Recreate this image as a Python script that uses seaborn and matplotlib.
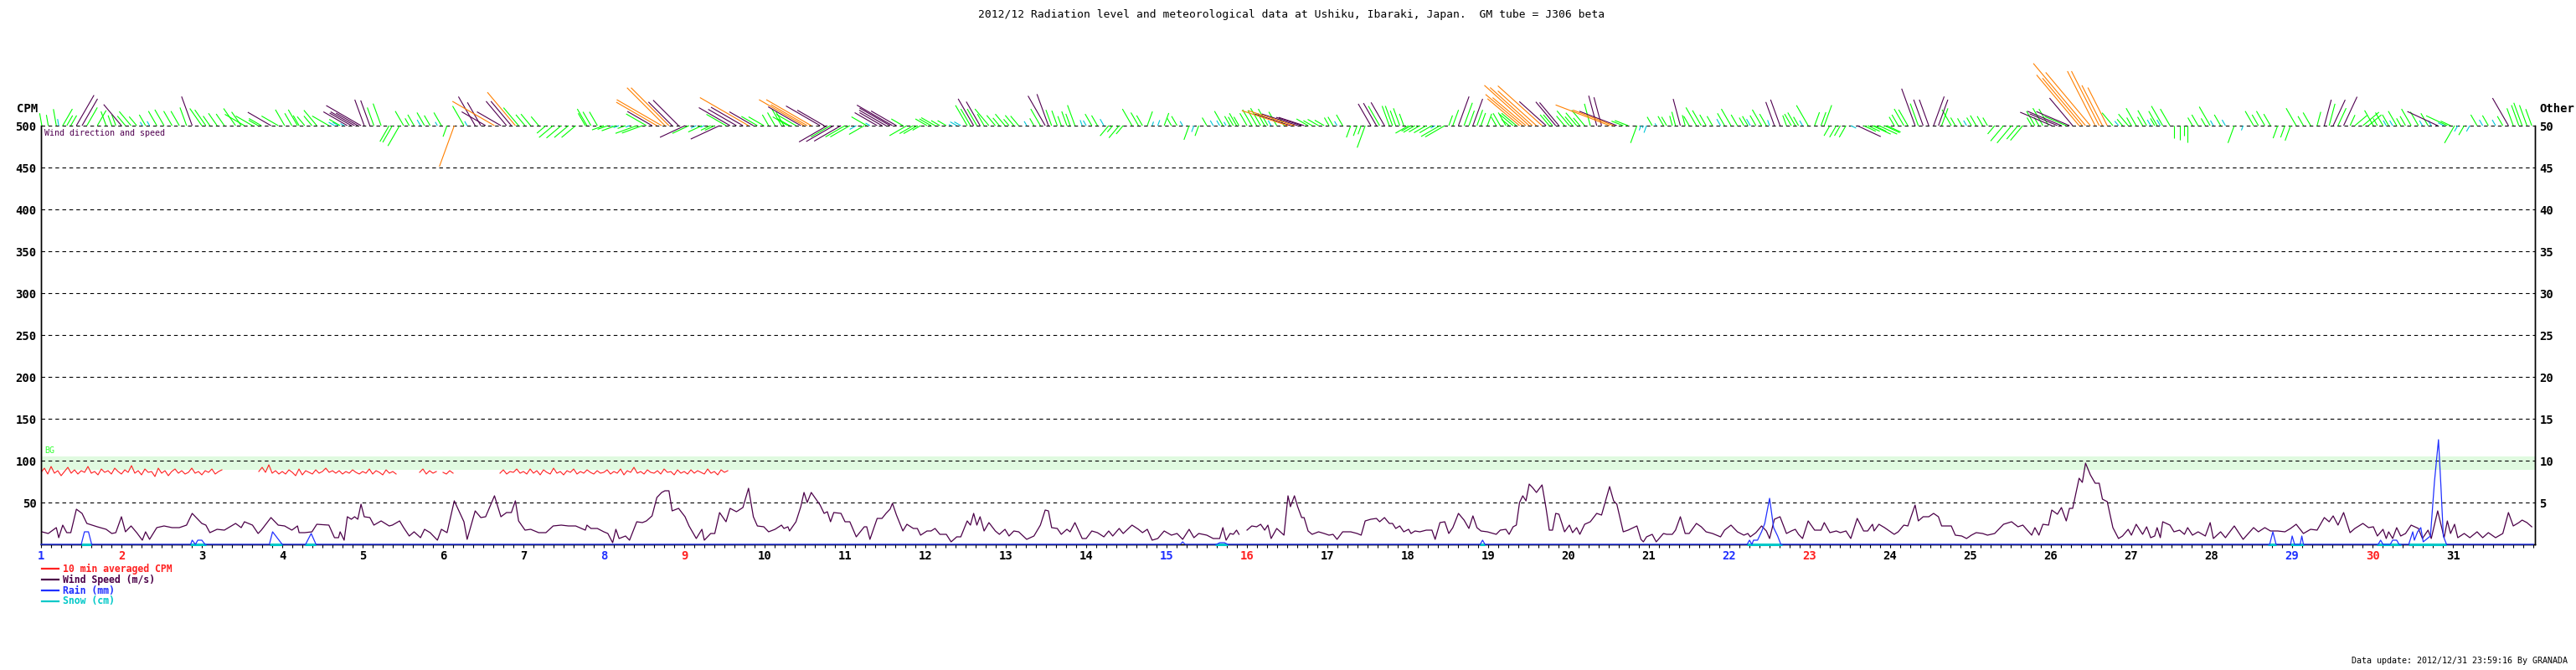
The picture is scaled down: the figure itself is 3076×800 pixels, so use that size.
import numpy as np
import pandas as pd
import matplotlib
matplotlib.use("Agg")
import matplotlib.pyplot as plt
from matplotlib.collections import LineCollection
from matplotlib.lines import Line2D
import seaborn as sns

# ---- values ----
# wind speed (m/s), sampled where the line turns
wind_day = [
    1.01, 1.09, 1.19, 1.22, 1.27, 1.32, 1.37, 1.44, 1.51, 1.57, 1.70, 1.81, 1.88, 1.93,
    2.00, 2.05, 2.12, 2.19, 2.26, 2.30, 2.35, 2.44, 2.53, 2.63, 2.72, 2.81, 2.88,
    3.00, 3.05, 3.10, 3.19, 3.28, 3.42, 3.49, 3.53, 3.63, 3.70, 3.74, 3.86, 3.95,
    4.03, 4.12, 4.19, 4.21, 4.28, 4.37, 4.43, 4.58, 4.65, 4.70, 4.72, 4.77, 4.81, 4.86, 4.90, 4.94, 4.98,
    5.02, 5.09, 5.14, 5.23, 5.33, 5.37, 5.46, 5.51, 5.58, 5.64, 5.72, 5.77, 5.84, 5.93, 5.98,
    6.05, 6.14, 6.26, 6.30, 6.40, 6.47, 6.53, 6.64, 6.72, 6.79, 6.85, 6.90, 6.94,
    7.02, 7.09, 7.19, 7.28, 7.37, 7.47, 7.56, 7.65, 7.77, 7.79, 7.84, 7.92,
    8.00, 8.05, 8.11, 8.15, 8.19, 8.27, 8.32, 8.41, 8.48, 8.53, 8.60, 8.66, 8.72, 8.76, 8.81, 8.85, 8.93,
    9.01, 9.06, 9.15, 9.22, 9.25, 9.33, 9.38, 9.44, 9.52, 9.57, 9.65, 9.73, 9.80, 9.86, 9.91, 9.99,
    10.05, 10.13, 10.21, 10.24, 10.29, 10.31, 10.39, 10.45, 10.49, 10.53, 10.58, 10.69, 10.74, 10.78, 10.82, 10.86, 10.95,
    11.00, 11.06, 11.14, 11.24, 11.27, 11.31, 11.40, 11.46, 11.51, 11.56, 11.59, 11.64, 11.72, 11.77, 11.85, 11.90, 11.94,
    12.02, 12.07, 12.12, 12.18, 12.26, 12.32, 12.39, 12.44, 12.52, 12.56, 12.60, 12.64, 12.68, 12.73, 12.79, 12.87, 12.92, 12.99,
    13.04, 13.10, 13.16, 13.26, 13.35, 13.43, 13.49, 13.53, 13.57, 13.64, 13.69, 13.76, 13.80, 13.86, 13.95,
    14.00, 14.07, 14.14, 14.22, 14.28, 14.33, 14.41, 14.46, 14.57, 14.65, 14.70, 14.76, 14.82, 14.89, 14.97,
    15.06, 15.13, 15.20, 15.28, 15.34, 15.40, 15.50, 15.58, 15.66, 15.70, 15.74, 15.79, 15.83, 15.87, 15.90, 15.95,
    16.00, 16.06, 16.12, 16.17, 16.22, 16.26, 16.30, 16.37, 16.46, 16.51, 16.54, 16.59, 16.63, 16.68, 16.71, 16.76, 16.81, 16.89, 16.96,
    17.02, 17.07, 17.12, 17.19, 17.29, 17.37, 17.42, 17.47, 17.54, 17.61, 17.65, 17.71, 17.77, 17.81, 17.85, 17.90, 17.95,
    18.01, 18.04, 18.09, 18.15, 18.23, 18.30, 18.34, 18.40, 18.46, 18.51, 18.56, 18.63, 18.70, 18.76, 18.81, 18.86, 18.91, 18.99,
    19.10, 19.15, 19.22, 19.26, 19.31, 19.35, 19.39, 19.43, 19.47, 19.51, 19.55, 19.60, 19.67, 19.72, 19.76, 19.80, 19.84, 19.88, 19.95,
    20.01, 20.05, 20.10, 20.14, 20.20, 20.27, 20.35, 20.41, 20.51, 20.56, 20.60, 20.68, 20.74, 20.85, 20.90, 20.93, 20.97,
    21.04, 21.09, 21.18, 21.22, 21.29, 21.33, 21.39, 21.45, 21.50, 21.59, 21.65, 21.71, 21.79, 21.89, 21.94,
    22.02, 22.10, 22.18, 22.23, 22.26, 22.33, 22.40, 22.46, 22.50, 22.56, 22.63, 22.71, 22.77, 22.82, 22.86, 22.91, 22.98,
    23.06, 23.14, 23.18, 23.25, 23.33, 23.38, 23.45, 23.51, 23.59, 23.67, 23.72, 23.78, 23.80, 23.86, 23.93, 23.96,
    24.05, 24.10, 24.17, 24.22, 24.31, 24.35, 24.41, 24.48, 24.54, 24.60, 24.64, 24.76, 24.81, 24.89, 24.95,
    25.01, 25.07, 25.15, 25.21, 25.30, 25.41, 25.51, 25.59, 25.65, 25.76, 25.80, 25.85, 25.90, 25.97,
    26.01, 26.08, 26.13, 26.19, 26.23, 26.27, 26.35, 26.39, 26.43, 26.49, 26.55, 26.60, 26.64, 26.70, 26.77, 26.84, 26.89, 26.96,
    27.00, 27.06, 27.14, 27.19, 27.24, 27.29, 27.32, 27.36, 27.39, 27.48, 27.53, 27.60, 27.66, 27.70, 27.76, 27.83, 27.92, 27.98,
    28.02, 28.11, 28.17, 28.28, 28.39, 28.52, 28.58, 28.66, 28.73, 28.82, 28.91, 28.98,
    29.05, 29.14, 29.23, 29.31, 29.40, 29.46, 29.51, 29.57, 29.64, 29.72, 29.78, 29.88, 29.95,
    30.01, 30.06, 30.13, 30.17, 30.20, 30.25, 30.30, 30.35, 30.41, 30.48, 30.57, 30.62, 30.69, 30.73, 30.81, 30.89, 30.93, 30.97,
    31.02, 31.06, 31.14, 31.21, 31.30, 31.37, 31.44, 31.53, 31.62, 31.69, 31.75, 31.82, 31.86, 31.92, 31.98,
]
wind_ms = [
    1.5, 1.3, 2.0, 0.8, 2.3, 1.4, 1.4, 4.2, 3.7, 2.5, 2.1, 1.8, 1.3, 1.4,
    3.3, 1.5, 2.2, 1.4, 0.5, 1.5, 0.6, 2.0, 2.2, 2.0, 2.0, 2.3, 3.7,
    2.5, 2.3, 1.4, 1.8, 1.7, 2.5, 2.0, 2.7, 2.3, 1.3, 1.7, 3.2, 2.3,
    2.2, 1.7, 2.2, 1.4, 1.4, 1.5, 2.4, 2.3, 0.8, 0.8, 1.5, 0.5, 3.3, 3.0, 3.3, 3.0, 4.8,
    3.3, 3.2, 2.3, 2.8, 2.2, 2.3, 2.8, 2.0, 1.0, 1.5, 0.8, 1.8, 1.4, 0.5, 1.8,
    1.4, 5.2, 2.7, 0.6, 4.0, 3.2, 3.3, 5.8, 3.3, 3.8, 3.8, 5.2, 2.8,
    1.7, 1.8, 1.4, 1.4, 2.2, 2.3, 2.2, 2.2, 1.7, 2.3, 1.9, 1.9,
    1.5, 1.3, 0.2, 1.8, 0.7, 1.0, 0.5, 2.7, 2.6, 2.8, 3.4, 5.6, 6.2, 6.4, 6.4, 4.0, 4.3,
    3.3, 2.2, 0.7, 1.8, 0.5, 1.3, 1.3, 3.8, 2.7, 4.3, 3.9, 4.4, 6.7, 3.3, 2.2, 2.1,
    1.5, 1.8, 2.3, 1.9, 2.1, 1.6, 2.7, 4.5, 6.2, 5.0, 6.2, 4.7, 3.7, 3.9, 2.7, 3.8, 3.7,
    2.7, 2.7, 0.9, 2.1, 2.1, 0.6, 3.1, 3.1, 3.7, 4.2, 4.9, 3.5, 1.6, 2.4, 1.9, 1.9, 1.1,
    1.6, 1.6, 1.9, 1.2, 1.2, 0.3, 0.9, 0.9, 2.8, 2.3, 3.7, 2.3, 3.3, 1.6, 2.6, 1.6, 1.2, 1.8,
    1.0, 1.6, 1.5, 0.6, 1.0, 2.3, 4.1, 4.0, 2.0, 1.9, 1.2, 1.8, 1.5, 2.6, 0.7,
    0.7, 1.6, 1.4, 0.9, 1.6, 1.0, 1.9, 1.3, 2.3, 1.8, 1.4, 1.8, 0.5, 0.7, 1.6,
    1.1, 1.3, 0.6, 1.8, 0.8, 1.3, 1.1, 0.7, 0.7, 2.0, 0.5, 1.3, 1.2, 1.7, 1.2, None,
    1.7, 2.2, 2.1, 2.4, 1.7, 2.3, 0.7, 1.9, 1.1, 5.8, 4.5, 5.8, 4.5, 3.2, 3.2, 1.6, 1.2, 1.5, 1.3,
    1.1, 1.2, 0.6, 1.5, 1.5, 1.3, 1.1, 2.8, 3.0, 3.1, 2.7, 3.2, 2.5, 2.5, 1.9, 2.2, 1.5,
    1.8, 1.3, 1.6, 1.5, 1.7, 1.7, 0.6, 2.6, 2.7, 1.3, 2.0, 3.7, 2.9, 1.9, 3.4, 2.0, 1.6, 1.5,
    1.2, 1.7, 1.8, 1.2, 2.1, 2.3, 5.0, 5.8, 5.2, 7.2, 6.8, 6.2, 7.1, 4.3, 1.7, 1.7, 3.7, 3.6, 1.5,
    2.3, 1.4, 2.0, 1.2, 2.4, 2.7, 3.7, 3.5, 6.9, 5.2, 4.8, 1.5, 1.7, 2.2, 0.6, 0.3, 0.9,
    1.2, 0.3, 1.3, 1.2, 1.2, 1.7, 3.3, 1.3, 1.3, 2.5, 2.1, 1.5, 1.3, 0.9, 1.7,
    2.3, 1.5, 1.1, 1.3, 0.9, 1.4, 2.2, 1.6, 0.7, 3.0, 3.3, 1.3, 1.6, 1.8, 1.2, 0.7, 2.8,
    1.7, 1.7, 2.6, 1.4, 1.6, 1.4, 1.6, 0.7, 3.1, 1.6, 1.6, 2.4, 1.6, 2.4, 2.0, 1.8,
    1.2, 1.5, 2.3, 2.2, 4.7, 2.8, 3.3, 3.3, 3.7, 3.3, 2.2, 2.2, 1.1, 1.0, 0.7,
    1.1, 1.4, 1.3, 1.1, 1.3, 2.4, 2.7, 2.1, 2.3, 1.1, 2.0, 1.1, 2.4, 2.3,
    4.1, 3.6, 4.4, 2.8, 4.3, 4.3, 7.9, 7.4, 9.7, 8.3, 7.3, 7.3, 5.4, 5.1, 2.0, 0.7, 1.0, 1.8,
    1.1, 2.4, 1.2, 2.1, 0.8, 1.0, 2.0, 0.8, 2.7, 2.3, 1.5, 1.7, 1.2, 2.0, 1.1, 1.5, 1.0, 2.6,
    0.7, 1.5, 0.8, 2.2, 0.6, 2.0, 1.5, 2.0, 1.6, 1.6, 1.5, 1.9,
    2.4, 1.3, 1.8, 1.7, 3.2, 2.7, 3.4, 2.3, 3.8, 1.4, 1.9, 2.5, 2.0,
    2.1, 1.0, 1.8, 0.7, 1.5, 0.7, 2.0, 1.0, 1.3, 2.3, 1.9, 0.7, 1.7, 0.7, 4.0, 0.8, 2.8, 1.3,
    2.4, 0.8, 1.3, 0.8, 1.5, 0.8, 1.4, 0.8, 1.3, 3.8, 2.2, 2.6, 2.9, 2.6, 2.1,
]
# wind direction (degrees from north, the way the sticks point), 4 per day
wind_dir = [
    350, 30, 30, 340,   320, 330, 330, 340,   325, 325, 300, 300,   330, 320, 300, 300,
    340, 210, 330, 330, 200, 330, 300, 320,   320, 230, 230, 330,   250, 250, 300, 315,
    245, 245, 300, 300, 330, 300, 300, 240,   240, 300, 300, 240,   300, 300, 330, 320,
    320, 330, 340, 340, 330, 220, 330, 20,    330, 200, 330, 330,   330, 330, 288, 300,
    330, 200, 330, 340, 240, 240, 20, 20,     330, 310, 312, 320,   320, 345, 291, 200,
    330, 345, 330, 330, 330, 330, 340, 330,   20, 210, 115, 115,    330, 340, 20, 330,
    330, 220, 220, 330, 293, 320, 333, 320,   330, 330, 180, 330,   330, 200, 330, 200,
    330, 15, 25, 50,    330, 330, 330, 295,   210, 330, 330, 340,
]
# 10 min averaged CPM, one value per hour from Dec 1 00:00 (None = no data)
cpm_hourly = [
    86, 91, 84, 93, 85, 88, 82, 87, 92, 85, 89, 84, 88, 86, 93, 85, 87, 83, 90, 86, 88, 84, 91, 87,
    84, 89, 86, 94, 85, 88, 83, 90, 86, 87, 81, 91, 85, 88, 82, 87, 90, 85, 88, 84, 86, 91, 85, 87,
    83, 88, 86, 90, 84, 87, 89, None, None, None, None, None, None, None, None, None, None, 87, 92, 86, 95, 85, 88, 84,
    87, 84, 89, 86, 82, 90, 83, 88, 86, 84, 89, 85, 87, 91, 86, 88, 85, 88, 84, 87, 85, 89, 86, 84,
    87, 85, 90, 84, 88, 86, 83, 89, 85, 87, 84, None, None, None, None, None, None, 86, 90, 84, 88, 85, 87, None,
    86, 84, 88, 85, None, None, None, None, None, None, None, None, None, None, None, None, None, 85, 89, 84, 87, 86, 90, 85,
    87, 84, 90, 85, 88, 83, 89, 86, 84, 91, 85, 87, 83, 88, 86, 90, 84, 87, 85, 89, 86, 84, 88, 85,
    86, 89, 84, 87, 85, 90, 83, 88, 86, 92, 85, 87, 84, 89, 86, 85, 88, 84, 90, 86, 87, 83, 89, 85,
    87, 84, 89, 85, 88, 86, 84, 90, 85, 87, 83, 89, 86, 88,
]
# rain (mm)
rain_day = [1.0, 1.50, 1.54, 1.59, 1.63, 2.86, 2.88, 2.92, 2.95, 3.00, 3.04, 3.84, 3.88, 3.96, 4.00,
            4.29, 4.36, 4.42, 15.17, 15.20, 15.23, 15.62, 15.66, 15.72, 15.76, 18.90, 18.93, 18.96,
            22.22, 22.25, 22.28, 22.30, 22.35, 22.40, 22.44, 22.50, 22.55, 22.60, 22.64,
            28.72, 28.76, 28.80, 28.98, 29.00, 29.03, 29.10, 29.12, 29.14,
            30.07, 30.10, 30.13, 30.22, 30.25, 30.30, 30.33, 30.45, 30.50, 30.52, 30.56, 30.60, 30.63,
            30.72, 30.77, 30.80, 30.82, 30.85, 30.88, 30.92, 32.0]
rain_mm = [0, 0, 1.5, 1.5, 0, 0, 0.5, 0, 0.5, 0.5, 0, 0, 1.5, 0.5, 0,
           0, 1.3, 0, 0, 0.3, 0, 0, 0.2, 0.2, 0, 0, 0.5, 0,
           0, 0.5, 0, 0.5, 0.5, 1.5, 2.5, 5.5, 2.0, 1.0, 0,
           0, 1.5, 0, 0, 1.0, 0, 0, 1.0, 0,
           0, 0.5, 0, 0, 0.5, 0.5, 0, 0, 1.5, 0.5, 1.5, 2.0, 0.3,
           1.0, 7.5, 10.5, 12.5, 7.0, 1.0, 0, 0]
# snow (cm): 0 during the wet spells
snow_from = [1.50, 2.85, 3.84, 4.28, 15.60, 18.90, 22.22, 28.70, 28.98, 30.05, 30.45]
snow_to = [1.63, 3.05, 4.00, 4.42, 15.76, 18.96, 22.66, 28.80, 29.14, 30.35, 30.92]

days = list(range(1, 32))
saturdays = [1, 8, 15, 22, 29]
sundays = [2, 9, 16, 23, 30]

title = "2012/12 Radiation level and meteorological data at Ushiku, Ibaraki, Japan.  GM tube = J306 beta"

RED = "#ff2020"
PURPLE = "#4b0048"
BLUE = "#2030ff"
CYAN = "#00c8c8"
W, H = 3076, 800
plt.rcParams["font.family"] = ["DejaVu Sans Mono"]

fig = plt.figure(figsize=(W / 100, H / 100), dpi=100)
ax = fig.add_axes([49 / W, 150 / H, 2978 / W, 500 / H])
x0, x1 = 1.0, 32.02
ax.set_xlim(x0, x1)
ax.set_ylim(0, 500)
ax2 = ax.twinx()
ax2.set_ylim(0, 50)
ax2.set_xlim(x0, x1)

# background band
ax.axhspan(89, 105, color="#e0fae0", zorder=0, lw=0)
ax.text(1.04, 112, "BG", color="#30ff30", fontsize=7.2, va="center", ha="left")

# grid
ax.set_yticks(range(50, 501, 50))
ax.yaxis.grid(True, color="black", lw=0.8, ls=(0, (4, 3.5)))
ax2.set_yticks(range(5, 51, 5))

# CPM line
cpm = pd.DataFrame({"cpm": cpm_hourly}, dtype=float)
cpm["day"] = 1 + cpm.index / 24
cpm["seg"] = cpm["cpm"].isna().cumsum()
cpm = cpm.dropna()
sns.lineplot(data=cpm, x="day", y="cpm", units="seg", estimator=None, sort=False,
             color=RED, lw=0.8, ax=ax, legend=False)

# wind speed line
wind = pd.DataFrame({"day": wind_day, "ms": wind_ms}, dtype=float)
wind["seg"] = wind["ms"].isna().cumsum()
wind = wind.dropna()
sns.lineplot(data=wind, x="day", y="ms", units="seg", estimator=None, sort=False,
             color=PURPLE, lw=0.9, ax=ax2, legend=False)

# rain and snow along the bottom
ax2.hlines([0] * len(snow_from), snow_from, snow_to, color=CYAN, lw=2.2, zorder=3, clip_on=False)
rain = pd.DataFrame({"day": rain_day, "mm": rain_mm})
sns.lineplot(data=rain, x="day", y="mm", estimator=None, sort=False,
             color=BLUE, lw=0.9, ax=ax2, legend=False)
for ln in ax2.lines[-1:]:
    ln.set_clip_on(False)
    ln.set_zorder(4)

# wind direction sticks on top of the plot
px_day = 2978 / (x1 - x0)
px_unit = 500 / 50
segs, cols, speeds = [], [], []
for t, s in zip(wind["day"], wind["ms"]):
    d = np.deg2rad(wind_dir[min(int((t - 1) * 4), len(wind_dir) - 1)])
    segs.append([(t, 50), (t + s * np.sin(d) * px_unit / px_day, 50 + s * np.cos(d))])
    if s < 1:
        cols.append("#00c8d8")
    elif s < 3:
        cols.append("#00ff00")
    elif s < 5:
        cols.append("#500050")
    else:
        cols.append("#ff8000")
    speeds.append(s)
order = np.argsort(speeds, kind="stable")
lc = LineCollection([segs[i] for i in order], colors=[cols[i] for i in order],
                    linewidths=0.8, clip_on=False, zorder=5)
ax2.add_collection(lc)

# axes styling
for a in (ax, ax2):
    a.set_xlabel("")
    a.set_ylabel("")
    a.spines["top"].set_visible(False)
    for sp in ("left", "right", "bottom"):
        a.spines[sp].set_color("black")
        a.spines[sp].set_linewidth(1.0)
ax.tick_params(axis="y", length=0, pad=4, labelsize=10)
ax2.tick_params(axis="y", length=0, pad=4, labelsize=10)
for lab in ax.get_yticklabels() + ax2.get_yticklabels():
    lab.set_fontweight("bold")

ax.set_xticks(days)
ax.set_xticks(np.arange(1, 32.01, 0.125), minor=True)
ax.tick_params(axis="x", which="both", direction="out", length=3, width=0.8, pad=2, labelsize=10)
ax.set_xticklabels([str(d) for d in days], fontweight="bold")
for d, lab in zip(days, ax.get_xticklabels()):
    if d in saturdays:
        lab.set_color(BLUE)
    elif d in sundays:
        lab.set_color(RED)
ax2.tick_params(axis="x", which="both", length=0, labelbottom=False)


def px_text(x, y, s, **kw):
    fig.text(x / W, 1 - y / H, s, **kw)


px_text(1542, 17, title, ha="center", va="center", fontsize=9.4)
px_text(20, 130, "CPM", ha="left", va="center", fontsize=10, fontweight="bold")
px_text(3032, 130, "Other", ha="left", va="center", fontsize=10, fontweight="bold")
px_text(53, 159, "Wind direction and speed", ha="left", va="center", fontsize=7.2, color="#500050")
px_text(3066, 789, "Data update: 2012/12/31 23:59:16 By GRANADA", ha="right", va="center", fontsize=7.2)

# legend
legend_items = [("10 min averaged CPM", RED), ("Wind Speed (m/s)", PURPLE),
                ("Rain (mm)", BLUE), ("Snow (cm)", CYAN)]
for k, (name, c) in enumerate(legend_items):
    y = 679 + k * 13
    fig.add_artist(Line2D([50 / W, 70 / W], [1 - y / H, 1 - y / H], color=c, lw=1.6))
    px_text(75, y, name, ha="left", va="center", fontsize=8.3, fontweight="bold", color=c)

fig.savefig("out.png", dpi=100)
